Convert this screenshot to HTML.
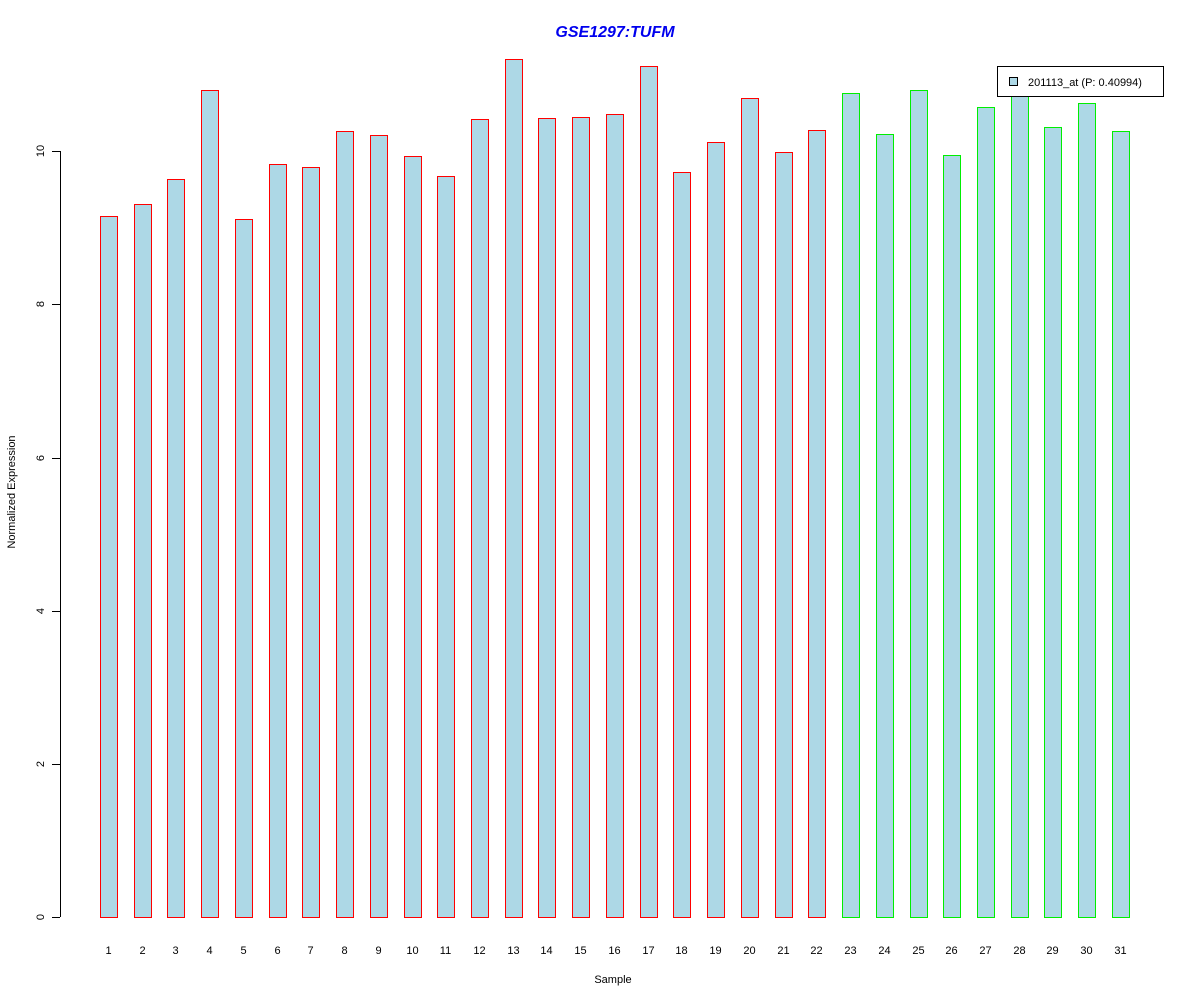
<!DOCTYPE html>
<html><head><style>body{margin:0;background:#fff}svg{display:block}</style></head>
<body>
<svg width="1200" height="1000" xmlns="http://www.w3.org/2000/svg" font-family="Liberation Sans, sans-serif">
<rect width="1200" height="1000" fill="#fff"/>
<text x="615" y="37" text-anchor="middle" font-size="16" font-weight="bold" font-style="italic" fill="#0000ee">GSE1297:TUFM</text>
<g stroke="#000" stroke-width="1">
<line x1="60.5" y1="151" x2="60.5" y2="917"/>
<line x1="52" y1="917.5" x2="60" y2="917.5"/>
<line x1="52" y1="764.5" x2="60" y2="764.5"/>
<line x1="52" y1="611.5" x2="60" y2="611.5"/>
<line x1="52" y1="458.5" x2="60" y2="458.5"/>
<line x1="52" y1="304.5" x2="60" y2="304.5"/>
<line x1="52" y1="151.5" x2="60" y2="151.5"/>
</g>
<g font-size="11" text-anchor="middle">
<text transform="translate(44,917) rotate(-90)">0</text>
<text transform="translate(44,764) rotate(-90)">2</text>
<text transform="translate(44,611) rotate(-90)">4</text>
<text transform="translate(44,458) rotate(-90)">6</text>
<text transform="translate(44,304) rotate(-90)">8</text>
<text transform="translate(44,151) rotate(-90)">10</text>
<text transform="translate(15,492) rotate(-90)">Normalized Expression</text>
<text x="613" y="983">Sample</text>
</g>
<g fill="#add8e6" stroke-width="1">
<g stroke="#ff0000">
<rect x="100.5" y="216.5" width="17" height="701"/>
<rect x="134.5" y="204.5" width="17" height="713"/>
<rect x="167.5" y="179.5" width="17" height="738"/>
<rect x="201.5" y="90.5" width="17" height="827"/>
<rect x="235.5" y="219.5" width="17" height="698"/>
<rect x="269.5" y="164.5" width="17" height="753"/>
<rect x="302.5" y="167.5" width="17" height="750"/>
<rect x="336.5" y="131.5" width="17" height="786"/>
<rect x="370.5" y="135.5" width="17" height="782"/>
<rect x="404.5" y="156.5" width="17" height="761"/>
<rect x="437.5" y="176.5" width="17" height="741"/>
<rect x="471.5" y="119.5" width="17" height="798"/>
<rect x="505.5" y="59.5" width="17" height="858"/>
<rect x="538.5" y="118.5" width="17" height="799"/>
<rect x="572.5" y="117.5" width="17" height="800"/>
<rect x="606.5" y="114.5" width="17" height="803"/>
<rect x="640.5" y="66.5" width="17" height="851"/>
<rect x="673.5" y="172.5" width="17" height="745"/>
<rect x="707.5" y="142.5" width="17" height="775"/>
<rect x="741.5" y="98.5" width="17" height="819"/>
<rect x="775.5" y="152.5" width="17" height="765"/>
<rect x="808.5" y="130.5" width="17" height="787"/>
</g>
<g stroke="#00ee00">
<rect x="842.5" y="93.5" width="17" height="824"/>
<rect x="876.5" y="134.5" width="17" height="783"/>
<rect x="910.5" y="90.5" width="17" height="827"/>
<rect x="943.5" y="155.5" width="17" height="762"/>
<rect x="977.5" y="107.5" width="17" height="810"/>
<rect x="1011.5" y="94.5" width="17" height="823"/>
<rect x="1044.5" y="127.5" width="17" height="790"/>
<rect x="1078.5" y="103.5" width="17" height="814"/>
<rect x="1112.5" y="131.5" width="17" height="786"/>
</g>
</g>
<g font-size="11" text-anchor="middle">
<text x="108.5" y="954">1</text><text x="142.5" y="954">2</text><text x="175.5" y="954">3</text><text x="209.5" y="954">4</text><text x="243.5" y="954">5</text><text x="277.5" y="954">6</text><text x="310.5" y="954">7</text><text x="344.5" y="954">8</text><text x="378.5" y="954">9</text><text x="412.5" y="954">10</text><text x="445.5" y="954">11</text><text x="479.5" y="954">12</text><text x="513.5" y="954">13</text><text x="546.5" y="954">14</text><text x="580.5" y="954">15</text><text x="614.5" y="954">16</text><text x="648.5" y="954">17</text><text x="681.5" y="954">18</text><text x="715.5" y="954">19</text><text x="749.5" y="954">20</text><text x="783.5" y="954">21</text><text x="816.5" y="954">22</text><text x="850.5" y="954">23</text><text x="884.5" y="954">24</text><text x="918.5" y="954">25</text><text x="951.5" y="954">26</text><text x="985.5" y="954">27</text><text x="1019.5" y="954">28</text><text x="1052.5" y="954">29</text><text x="1086.5" y="954">30</text><text x="1120.5" y="954">31</text>
</g>
<rect x="997.5" y="66.5" width="166" height="30" fill="#fff" stroke="#000"/>
<rect x="1009.5" y="77.5" width="8" height="8" fill="#add8e6" stroke="#000"/>
<text x="1028" y="86" font-size="11">201113_at (P: 0.40994)</text>
</svg>
</body></html>
